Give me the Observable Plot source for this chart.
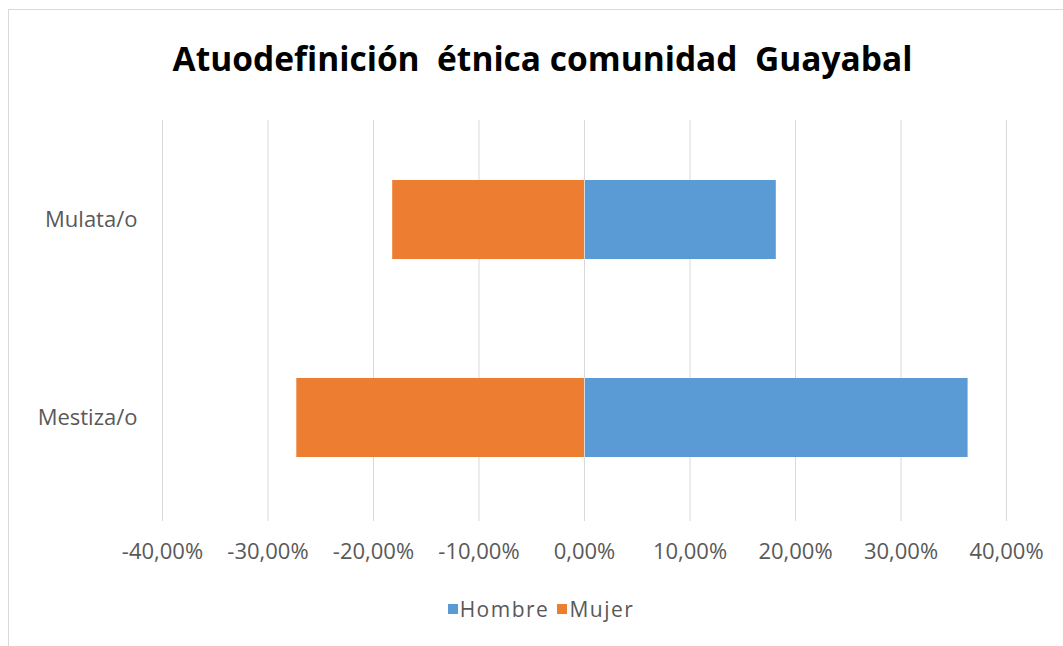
<!DOCTYPE html>
<html>
<head>
<meta charset="utf-8">
<script src="https://cdn.jsdelivr.net/npm/d3@7"></script>
<script src="https://cdn.jsdelivr.net/npm/@observablehq/plot@0.6"></script>
<style>
  html, body { margin: 0; padding: 0; background: #fff; }
  #wrap { position: relative; width: 1063px; height: 646px; overflow: hidden; background: #fff; font-family: "Open Sans", sans-serif; }
  #frame { position: absolute; left: 8px; top: 9px; width: 1100px; height: 700px; border: 1px solid #d9d9d9; box-sizing: border-box; }
  #title { position: absolute; left: 0; top: 35px; width: 1085px; text-align: center; font-size: 33.5px; font-weight: 700; color: #000; white-space: pre; }
  #chart { position: absolute; left: 0; top: 0; }
  #legend { position: absolute; top: 595px; left: 0; width: 1082px; display: flex; justify-content: center; align-items: center; font-size: 21px; color: #595959; letter-spacing: 1.5px; }
  .sw { display: inline-block; width: 10px; height: 10px; margin-right: 2px; }
  .item { display: flex; align-items: center; margin: 0 4px; }
</style>
</head>
<body>
<div id="wrap">
  <div id="frame"></div>
  <div id="chart"></div>
  <div id="title">Atuodefinición  étnica comunidad  Guayabal</div>
  <div id="legend"></div>
</div>
<script>
const categories = ["Mulata/o", "Mestiza/o"];
const series = ["Hombre", "Mujer"];
const colors = ["#5b9bd5", "#ed7d31"];
const hombre = [0.1818, 0.3636];
const mujer = [-0.1818, -0.2727];
const xTicks = [-0.4, -0.3, -0.2, -0.1, 0, 0.1, 0.2, 0.3, 0.4];

const data = [];
categories.forEach((c, i) => {
  data.push({cat: c, serie: "Hombre", value: hombre[i]});
  data.push({cat: c, serie: "Mujer", value: mujer[i]});
});

const fmt = v => (v * 100).toFixed(2).replace(".", ",") + "%";

const plot = Plot.plot({
  width: 1063,
  height: 646,
  marginTop: 120,
  marginBottom: 129,
  marginLeft: 162,
  marginRight: 57,
  style: { fontFamily: "Open Sans, sans-serif", background: "transparent" },
  x: { domain: [-0.4, 0.4], ticks: xTicks, label: null },
  y: { domain: categories, paddingInner: 0.6, paddingOuter: 0.3, label: null },
  color: { domain: series, range: colors },
  marks: [
    Plot.gridX(xTicks, { stroke: "#d9d9d9", strokeOpacity: 1, strokeWidth: 1, insetBottom: -4 }),
    Plot.barX(data, { y: "cat", x1: 0, x2: "value", fill: "serie" }),
    Plot.gridX([0], { stroke: "#d9d9d9", strokeOpacity: 1, strokeWidth: 1 }),
    Plot.axisX(xTicks, { tickSize: 0, tickPadding: 26, tickFormat: fmt, fontSize: 22, fill: "#595959", style: {letterSpacing: "2px"} }),
    Plot.axisY(categories, { tickSize: 0, tickPadding: 25, fontSize: 22, fill: "#595959", style: {letterSpacing: "3.6px"} })
  ]
});
document.getElementById("chart").appendChild(plot);

const legend = document.getElementById("legend");
series.forEach((s, i) => {
  const it = document.createElement("span");
  it.className = "item";
  const sw = document.createElement("span");
  sw.className = "sw";
  sw.style.background = colors[i];
  it.appendChild(sw);
  it.appendChild(document.createTextNode(s));
  legend.appendChild(it);
});
</script>
</body>
</html>
